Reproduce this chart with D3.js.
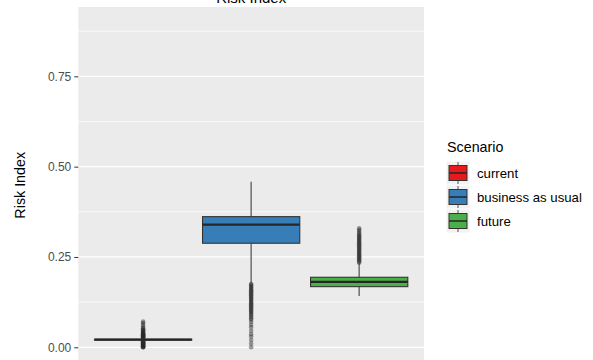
<!DOCTYPE html>
<html><head><meta charset="utf-8">
<script src="https://cdn.jsdelivr.net/npm/d3@7"></script>
<style>html,body{margin:0;padding:0;background:#fff;overflow:hidden}</style>
</head><body>
<script>
const categories = ["current", "business as usual", "future"];
const colors = ["#E41A1C", "#377EB8", "#4DAF4A"];
// box statistics: [lowerWhisker, q1, median, q3, upperWhisker]
const currentStats = [0.018, 0.0200, 0.0210, 0.0222, 0.024];
const bauStats = [0.178, 0.288, 0.3394, 0.3616, 0.4585];
const futureStats = [0.142, 0.1678, 0.1810, 0.1938, 0.2325];
const currentOutliers = [0.000,0.000,0.001,0.002,0.003,0.004,0.005,0.006,0.007,0.008,0.009,0.010,0.011,0.012,0.013,0.014,0.015,0.016,0.017,0.026,0.027,0.028,0.029,0.030,0.031,0.032,0.033,0.034,0.035,0.036,0.037,0.038,0.040,0.042,0.044,0.046,0.048,0.050,0.053,0.057,0.062,0.067,0.071];
const bauOutliers = [0.000,0.010,0.020,0.030,0.036,0.045,0.055,0.062,0.070,0.076,0.080,0.084,0.088,0.092,0.095,0.098,0.101,0.104,0.107,0.110,0.113,0.116,0.119,0.122,0.125,0.128,0.131,0.134,0.137,0.140,0.143,0.146,0.149,0.152,0.155,0.158,0.161,0.164,0.167,0.170,0.173,0.175];
const futureOutliers = [0.234,0.237,0.240,0.243,0.246,0.249,0.252,0.255,0.258,0.261,0.264,0.267,0.270,0.273,0.276,0.279,0.282,0.285,0.288,0.291,0.294,0.297,0.300,0.303,0.306,0.309,0.312,0.316,0.320,0.325,0.329];
const yTicks = [0, 0.25, 0.5, 0.75];
const yMinor = [0.125, 0.375, 0.625, 0.875];
const yDomain = [-0.0449, 0.9419];

const stats = [currentStats, bauStats, futureStats];
const outliers = [currentOutliers, bauOutliers, futureOutliers];

const W = 593, H = 360;
const panel = {left: 78.3, right: 424, top: 7, bottom: 363.5};
const svg = d3.select("body").append("svg").attr("width", W).attr("height", H)
  .style("font-family", "'Liberation Sans', Arial, sans-serif");

const y = d3.scaleLinear().domain(yDomain).range([panel.bottom, panel.top]);
const x = d3.scalePoint().domain(categories).range([panel.left, panel.right]).padding(0.6);
const bw = x.step() * 0.9;

svg.append("rect").attr("x", panel.left).attr("y", panel.top)
  .attr("width", panel.right - panel.left).attr("height", panel.bottom - panel.top).attr("fill", "#EBEBEB");

svg.selectAll(".minor").data(yMinor).join("line")
  .attr("x1", panel.left).attr("x2", panel.right)
  .attr("y1", d => y(d)).attr("y2", d => y(d))
  .attr("stroke", "#fff").attr("stroke-width", 0.7);
svg.selectAll(".major").data(yTicks).join("line")
  .attr("x1", panel.left).attr("x2", panel.right)
  .attr("y1", d => y(d)).attr("y2", d => y(d))
  .attr("stroke", "#fff").attr("stroke-width", 1.3);

// axis
const yAxis = d3.axisLeft(y).tickValues(yTicks).tickFormat(d3.format(".2f")).tickSize(4).tickPadding(3);
const ag = svg.append("g").attr("transform", `translate(${panel.left},0)`).call(yAxis);
ag.select(".domain").remove();
ag.selectAll(".tick line").attr("stroke", "#333").attr("stroke-width", 1);
ag.selectAll(".tick text").attr("fill", "#4D4D4D").style("font-size", "12px")
  .style("font-family", "'Liberation Sans', Arial, sans-serif");

// boxes
categories.forEach((c, i) => {
  const s = stats[i];
  const cx = x(c);
  const g = svg.append("g");
  g.append("line").attr("x1", cx).attr("x2", cx).attr("y1", y(s[3])).attr("y2", y(s[4]))
    .attr("stroke", "#6e6e6e").attr("stroke-width", 1.5);
  g.append("line").attr("x1", cx).attr("x2", cx).attr("y1", y(s[1])).attr("y2", y(s[0]))
    .attr("stroke", "#6e6e6e").attr("stroke-width", 1.5);
  g.append("rect").attr("x", cx - bw / 2).attr("width", bw)
    .attr("y", y(s[3])).attr("height", Math.max(0.1, y(s[1]) - y(s[3])))
    .attr("fill", colors[i]).attr("stroke", "#333").attr("stroke-width", 1.1);
  g.append("line").attr("x1", cx - bw / 2).attr("x2", cx + bw / 2)
    .attr("y1", y(s[2])).attr("y2", y(s[2]))
    .attr("stroke", "#262626").attr("stroke-width", 2.3);
  g.selectAll("circle").data(outliers[i]).join("circle")
    .attr("cx", cx).attr("cy", d => y(d)).attr("r", 2.3)
    .attr("fill", "#2b2b2b").attr("fill-opacity", 0.45);
});

// title (mostly cut off at the top edge, as in the reference)
svg.append("text").attr("x", (panel.left + panel.right) / 2).attr("y", 3)
  .attr("text-anchor", "middle").style("font-size", "15px").attr("fill", "#000").text("Risk Index");

// y axis title
svg.append("text").attr("transform", `translate(25,${(panel.top + panel.bottom) / 2}) rotate(-90)`)
  .attr("text-anchor", "middle").style("font-size", "14.3px").attr("fill", "#000").text("Risk Index");

// legend
const lg = svg.append("g");
lg.append("text").attr("x", 447).attr("y", 152.3).style("font-size", "14.3px").attr("fill", "#000").text("Scenario");
const keyY = d3.scalePoint().domain(categories).range([173, 221]);
categories.forEach((c, i) => {
  const cy = keyY(c);
  const kx = 458;
  lg.append("rect").attr("x", kx - 11.5).attr("y", cy - 11.5).attr("width", 23).attr("height", 23).attr("fill", "#F2F2F2");
  lg.append("line").attr("x1", kx).attr("x2", kx).attr("y1", cy - 11).attr("y2", cy + 11)
    .attr("stroke", "#555").attr("stroke-width", 1);
  lg.append("rect").attr("x", kx - 9).attr("y", cy - 7.5).attr("width", 18).attr("height", 15)
    .attr("fill", colors[i]).attr("stroke", "#333").attr("stroke-width", 1);
  lg.append("line").attr("x1", kx - 9).attr("x2", kx + 9).attr("y1", cy).attr("y2", cy)
    .attr("stroke", "#262626").attr("stroke-width", 1.5);
  lg.append("text").attr("x", 477).attr("y", cy + 4.6).style("font-size", "13.2px").attr("fill", "#000").text(c);
});
</script>
</body></html>
